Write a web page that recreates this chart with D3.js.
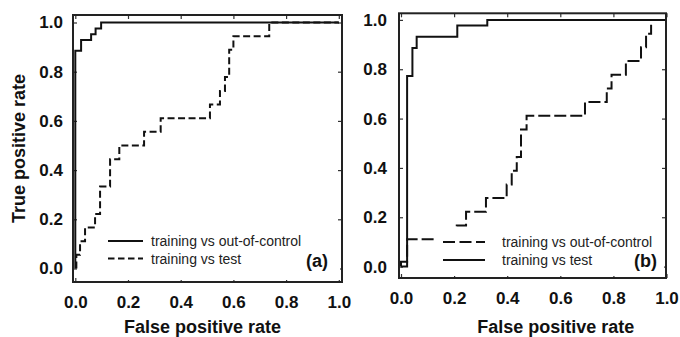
<!DOCTYPE html>
<html>
<head>
<meta charset="utf-8">
<script src="https://cdn.jsdelivr.net/npm/d3@7"></script>
<style>
  html, body { margin: 0; padding: 0; background: #fff; }
  svg { display: block; }
  .tick text { font-family: "Liberation Sans", Arial, sans-serif; font-weight: bold; font-size: 17px; fill: #111; }
</style>
</head>
<body>
<svg id="chart" width="680" height="337"></svg>
<script>
// Axis ticks shared by both panels
const rateTicks = [0, 0.2, 0.4, 0.6, 0.8, 1.0];

// Panel (a): ROC corners (false positive rate, true positive rate)
const aOutOfControlFpr = [0, 0, 0.022, 0.06, 0.077, 0.098, 1];
const aOutOfControlTpr = [0, 0.885, 0.929, 0.952, 0.976, 1, 1];

const aTestFpr = [0.004, 0.004, 0.018, 0.037, 0.075, 0.094, 0.132, 0.167, 0.261, 0.324, 0.511, 0.549, 0.568, 0.584, 0.600, 0.736, 1];
const aTestTpr = [0, 0.056, 0.111, 0.167, 0.222, 0.333, 0.444, 0.5, 0.556, 0.611, 0.667, 0.722, 0.778, 0.889, 0.944, 1, 1];

// Panel (b)
const bOutOfControlFpr = [0, 0.023, 0.21, 0.245, 0.32, 0.398, 0.417, 0.436, 0.452, 0.473, 0.693, 0.775, 0.793, 0.847, 0.904, 0.923, 0.942, 1];
const bOutOfControlTpr = [0, 0.111, 0.167, 0.222, 0.278, 0.333, 0.389, 0.444, 0.556, 0.611, 0.667, 0.722, 0.778, 0.833, 0.889, 0.944, 1, 1];

const bTestFpr = [0, 0, 0.023, 0.043, 0.059, 0.212, 0.325, 1];
const bTestTpr = [0, 0.02, 0.773, 0.886, 0.932, 0.977, 1, 1];

// Legend entries and panel tags
const aLegend = ["training vs out-of-control", "training vs test"];
const bLegend = ["training vs out-of-control", "training vs test"];
const panelTags = ["(a)", "(b)"];
const xTitle = "False positive rate";
const yTitle = "True positive rate";

const svg = d3.select("#chart");
const FONT = "'Liberation Sans', Arial, sans-serif";
const INK = "#111";

function zip(xs, ys) { return xs.map((x, i) => [x, ys[i]]); }

function drawPanel(p) {
  const x = d3.scaleLinear().domain([0, 1]).range(p.xRange);
  const y = d3.scaleLinear().domain([0, 1]).range(p.yRange);
  const g = svg.append("g");
  const b = p.box;

  // inward ticks on all four sides
  const fmt = d3.format(".1f");
  const bottom = g.append("g").attr("transform", `translate(0,${b.bottom})`)
    .call(d3.axisBottom(x).tickValues(rateTicks).tickFormat(fmt).tickSize(-4).tickPadding(14));
  const top = g.append("g").attr("transform", `translate(0,${b.top})`)
    .call(d3.axisTop(x).tickValues(rateTicks).tickFormat("").tickSize(-4));
  const left = g.append("g").attr("transform", `translate(${b.left},0)`)
    .call(d3.axisLeft(y).tickValues(rateTicks).tickFormat(fmt).tickSize(-4).tickPadding(p.yPad));
  const right = g.append("g").attr("transform", `translate(${b.right},0)`)
    .call(d3.axisRight(y).tickValues(rateTicks).tickFormat("").tickSize(-4));
  [bottom, top, left, right].forEach(a => {
    a.select(".domain").remove();
    a.selectAll(".tick line").attr("stroke", "#333").attr("stroke-width", 1.2);
  });
  bottom.selectAll(".tick text").attr("dy", "0.71em");

  const line = d3.line().x(d => x(d[0])).y(d => y(d[1])).curve(d3.curveStepAfter);

  p.curves.forEach(c => {
    g.append("path")
      .attr("d", line(zip(c.fpr, c.tpr)))
      .attr("fill", "none")
      .attr("stroke", INK)
      .attr("stroke-width", 2)
      .attr("stroke-dasharray", c.dash || null);
  });

  // legend with white backing
  const L = p.legend;
  g.append("rect")
    .attr("x", L.bgLeft).attr("y", L.bgTop)
    .attr("width", b.right - 2 - L.bgLeft).attr("height", b.bottom - 2 - L.bgTop)
    .attr("fill", "#fff");
  L.items.forEach((it, i) => {
    const ly = L.y0 + i * L.dy;
    g.append("line")
      .attr("x1", L.x1).attr("x2", L.x2).attr("y1", ly).attr("y2", ly)
      .attr("stroke", INK).attr("stroke-width", 2)
      .attr("stroke-dasharray", it.dash || null);
    g.append("text")
      .attr("x", L.tx).attr("y", ly + 5)
      .attr("font-family", FONT).attr("font-size", 14).attr("fill", "#222")
      .text(it.label);
  });
  g.append("text")
    .attr("x", p.tag.x).attr("y", p.tag.y)
    .attr("text-anchor", "end")
    .attr("font-family", FONT).attr("font-weight", "bold").attr("font-size", 18).attr("fill", INK)
    .text(p.tag.text);

  // frame
  g.append("rect")
    .attr("x", b.left).attr("y", b.top)
    .attr("width", b.right - b.left).attr("height", b.bottom - b.top)
    .attr("fill", "none").attr("stroke", "#222").attr("stroke-width", 2);

  // x title
  g.append("text")
    .attr("x", p.xTitleX).attr("y", 333)
    .attr("text-anchor", "middle")
    .attr("font-family", FONT).attr("font-weight", "bold").attr("font-size", 18).attr("fill", INK)
    .text(xTitle);
}

drawPanel({
  xRange: [75.3, 338.8], yRange: [268.5, 22.5],
  box: { left: 73, right: 342, top: 15, bottom: 282 },
  yPad: 10,
  curves: [
    { fpr: aOutOfControlFpr, tpr: aOutOfControlTpr },
    { fpr: aTestFpr, tpr: aTestTpr, dash: "7,3.5" }
  ],
  legend: {
    bgLeft: 104, bgTop: 229, x1: 108, x2: 143, tx: 151, y0: 241, dy: 17.5,
    items: [{ label: aLegend[0] }, { label: aLegend[1], dash: "6.5,3.5" }]
  },
  tag: { text: panelTags[0], x: 328, y: 267 },
  xTitleX: 202.5
});

drawPanel({
  xRange: [401, 666.5], yRange: [266.6, 19.9],
  box: { left: 399, right: 666, top: 13.3, bottom: 278 },
  yPad: 12,
  curves: [
    { fpr: bTestFpr, tpr: bTestTpr },
    { fpr: bOutOfControlFpr, tpr: bOutOfControlTpr, dash: "12,4" }
  ],
  legend: {
    bgLeft: 437, bgTop: 227, x1: 443, x2: 485, tx: 502, y0: 242, dy: 18,
    items: [{ label: bLegend[0], dash: "12,4.5" }, { label: bLegend[1] }]
  },
  tag: { text: panelTags[1], x: 657, y: 267 },
  xTitleX: 555.7
});

// y title on the left panel only
svg.append("text")
  .attr("transform", "translate(25,148.5) rotate(-90)")
  .attr("text-anchor", "middle")
  .attr("font-family", FONT).attr("font-weight", "bold").attr("font-size", 18).attr("fill", INK)
  .text(yTitle);
</script>
</body>
</html>
